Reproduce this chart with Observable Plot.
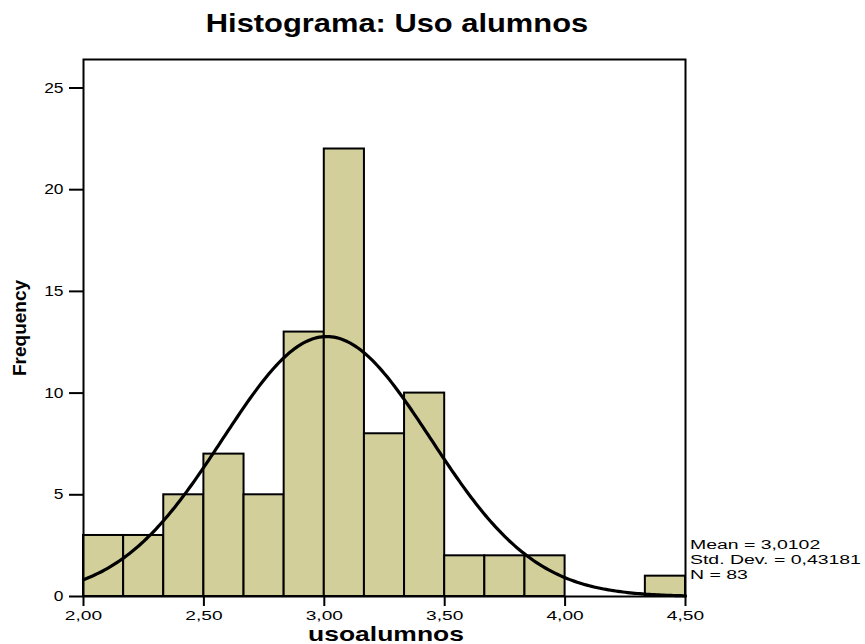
<!DOCTYPE html>
<html>
<head>
<meta charset="utf-8">
<script src="https://cdn.jsdelivr.net/npm/d3@7"></script>
<script src="https://cdn.jsdelivr.net/npm/@observablehq/plot@0.6"></script>
<style>
  body { margin: 0; background: #fff; font-family: "Liberation Sans", Arial, sans-serif; }
  #wrap { position: relative; width: 865px; height: 644px; overflow: hidden; }
  #chart { position: absolute; left: 0; top: 0; }
  #title { position: absolute; top: 8px; left: 197px; width: 400px; text-align: center; font-size: 25.5px; font-weight: bold; color: #000; transform: scaleX(1.21); transform-origin: center; white-space: nowrap; line-height: 30px; }
  #xlabel { position: absolute; top: 625px; left: 286px; width: 200px; text-align: center; font-size: 21px; font-weight: bold; color: #000; transform: scaleX(1.26); transform-origin: center; white-space: nowrap; line-height: 18px; }
  #stats { position: absolute; left: 690px; top: 538px; font-size: 12px; line-height: 15px; color: #000; white-space: pre; transform: scaleX(1.62); transform-origin: left top; }
</style>
</head>
<body>
<div id="wrap">
  <div id="chart"></div>
  <div id="title">Histograma: Uso alumnos</div>
  <div id="xlabel">usoalumnos</div>
  <div id="stats"></div>
</div>
<script>
// Bin edges (width 1/6) and frequencies
const binStarts = [2.0, 2.1667, 2.3333, 2.5, 2.6667, 2.8333, 3.0, 3.1667, 3.3333, 3.5, 3.6667, 3.8333, 4.0, 4.1667, 4.3333];
const binEnds   = [2.1667, 2.3333, 2.5, 2.6667, 2.8333, 3.0, 3.1667, 3.3333, 3.5, 3.6667, 3.8333, 4.0, 4.1667, 4.3333, 4.5];
const counts    = [3, 3, 5, 7, 5, 13, 22, 8, 10, 2, 2, 2, 0, 0, 1];

// Summary statistics shown in the chart
const meanVal = 3.0102;
const sdVal = 0.43181;
const nVal = 83;
const binWidth = 1 / 6;

const xTicks = [2.0, 2.5, 3.0, 3.5, 4.0, 4.5];
const yTicks = [0, 5, 10, 15, 20, 25];

const bars = counts.map((c, i) => ({x1: binStarts[i], x2: binEnds[i], y: c})).filter(d => d.y > 0);

// Fitted normal curve (SPSS overlay) from the stated mean / std. dev. / N
const curve = d3.range(2.0, 4.5001, 0.01).map(x => ({
  x,
  y: nVal * binWidth * Math.exp(-0.5 * ((x - meanVal) / sdVal) ** 2) / (sdVal * Math.sqrt(2 * Math.PI))
}));

const comma = (f) => (d) => f(d).replace(".", ",");

const plot = Plot.plot({
  width: 865,
  height: 644,
  marginTop: 59,
  marginBottom: 48,
  marginLeft: 83,
  marginRight: 180,
  style: {fontFamily: "'Liberation Sans', Arial, sans-serif", fontSize: "14px", color: "#000", background: "#fff"},
  x: {domain: [2.0, 4.5]},
  y: {domain: [0, 26.4]},
  marks: [
    Plot.rectY(bars, {x1: "x1", x2: "x2", y: "y", fill: "#d3cf9b", stroke: "#000", strokeWidth: 2}),
    Plot.line(curve, {x: "x", y: "y", stroke: "#000", strokeWidth: 3.2}),
    Plot.frame({stroke: "#000", strokeWidth: 2}),
    Plot.axisX({ticks: xTicks, tickSize: 10, tickPadding: 4, tickFormat: comma(d3.format(".2f")), fontSize: 13.5, stroke: "#000", strokeWidth: 2, label: null}),
    Plot.axisY({ticks: yTicks, tickSize: 14, tickPadding: 6, fontSize: 14.5, stroke: "#000", strokeWidth: 2, label: null}),
    Plot.text(["Frequency"], {frameAnchor: "left", textAnchor: "middle", dx: -64, rotate: -90, fontSize: 19, fontWeight: "bold", fill: "#000"})
  ]
});
document.getElementById("chart").appendChild(plot);

// widen the tick labels like the reference (horizontally stretched glyphs)
function stretch(sel, s) {
  plot.querySelectorAll(sel).forEach(t => {
    const tr = t.getAttribute("transform");
    if (tr && tr.includes("translate")) {
      t.setAttribute("transform", tr + ` scale(${s},1)`);
    } else {
      const x = +(t.getAttribute("x") || 0), y = +(t.getAttribute("y") || 0);
      t.setAttribute("transform", `translate(${x},${y}) scale(${s},1) translate(${-x},${-y})`);
    }
  });
}
stretch('g[aria-label="x-axis tick label"] text', 1.42);
stretch('g[aria-label="y-axis tick label"] text', 1.2);

document.getElementById("stats").textContent =
  "Mean = " + String(meanVal).replace(".", ",") + "\n" +
  "Std. Dev. = " + String(sdVal).replace(".", ",") + "\n" +
  "N = " + nVal;
</script>
</body>
</html>
